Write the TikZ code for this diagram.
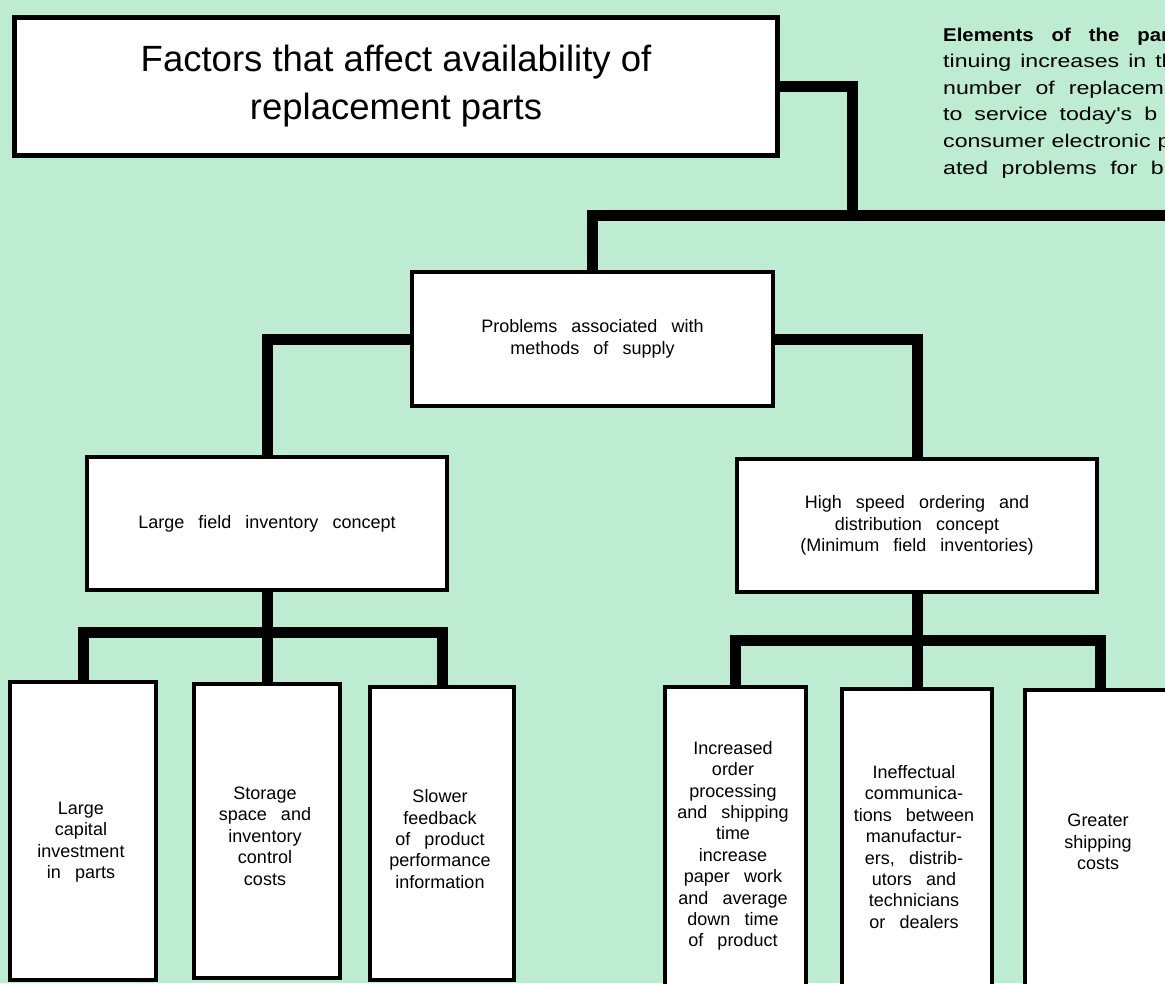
\documentclass[tikz,border=0pt]{standalone}
\usepackage{fontspec}
\setmainfont{Liberation Sans}
\newfontfamily\blockfont{Liberation Sans}[FakeStretch=1.25]
\newfontfamily\blockboldfont{Liberation Sans}[FakeStretch=1.1]
\newcommand\wsp[1]{\spaceskip #1\relax}
\definecolor{mint}{RGB}{189,236,211}
\begin{document}
\begin{tikzpicture}[x=1pt,y=-1pt,
  box/.style={draw=black, fill=white, line width=4pt, inner sep=0pt, anchor=north west},
  wire/.style={draw=black, line width=11pt, line join=miter, line cap=butt},
  boxtext/.style={font={\fontsize{18}{21.4}\selectfont\wsp{0.78em}}, align=center, inner sep=0pt},
  titletext/.style={font={\fontsize{36.5}{48}\selectfont}, align=center},
  coltext/.style={anchor=base west, inner sep=0pt}
]
\useasboundingbox (0,0) rectangle (1165,983);
\clip (0,0) rectangle (1165,983);
\fill[mint] (0,0) rectangle (1165,983);

% right column text (cut by the page edge, as in the reference)
\node[coltext, font={\blockboldfont\bfseries\fontsize{18.5}{20}\selectfont\wsp{18pt}}] (tr1) at (943,41) {Elements of the par};
\node[coltext, font={\blockfont\fontsize{18.5}{20}\selectfont\wsp{9pt}}] (tr2) at (943,67.6) {tinuing increases in th};
\node[coltext, font={\blockfont\fontsize{18.5}{20}\selectfont\wsp{14pt}}] (tr3) at (943,94.2) {number of replacem};
\node[coltext, font={\blockfont\fontsize{18.5}{20}\selectfont\wsp{12pt}}] (tr4) at (943,120.8) {to service today's b};
\node[coltext, font={\blockfont\fontsize{18.5}{20}\selectfont\wsp{7pt}}] (tr5) at (943,147.4) {consumer electronic p};
\node[coltext, font={\blockfont\fontsize{18.5}{20}\selectfont\wsp{13.5pt}}] (tr6) at (943,174) {ated problems for b};

% boxes
\node[box, line width=5pt, minimum width=763pt, minimum height=138pt, titletext] (title) at (12,15)
  {Factors that affect availability of\\replacement parts};
\node[box, minimum width=361pt, minimum height=134pt, boxtext] (prob) at (410,270)
  {Problems associated with\\methods of supply};
\node[box, minimum width=360pt, minimum height=133pt, boxtext] (large) at (85,455)
  {Large field inventory concept};
\node[box, minimum width=360pt, minimum height=133pt, boxtext] (hs) at (735,457)
  {High speed ordering and\\distribution concept\\(Minimum field inventories)};

\node[box, minimum width=146pt, minimum height=298pt] (b1) at (8,680) {};
\node[box, minimum width=146pt, minimum height=294pt] (b2) at (192,682) {};
\node[box, minimum width=144pt, minimum height=293pt] (b3) at (368,685) {};
\node[box, minimum width=141pt, minimum height=320pt] (b4) at (663,685) {};
\node[box, minimum width=150pt, minimum height=320pt] (b5) at (840,687) {};
\node[box, minimum width=150pt, minimum height=320pt] (b6) at (1023,688) {};

\node[boxtext] (t1) at (81,842) {Large\\capital\\investment\\in parts};
\node[boxtext] (t2) at (265,836) {Storage\\space and\\inventory\\control\\costs};
\node[boxtext] (t3) at (440,839) {Slower\\feedback\\of product\\performance\\information};
\node[boxtext] (t4) at (733,846) {Increased\\order\\processing\\and shipping\\time\\increase\\paper work\\and average\\down time\\of product};
\node[boxtext] (t5) at (914,847) {Ineffectual\\communica-\\tions between\\manufactur-\\ers, distrib-\\utors and\\technicians\\or dealers};
\node[boxtext] (t6) at (1098,842) {Greater\\shipping\\costs};

% connectors
\coordinate (j1) at (852,215);
\coordinate (barR) at (1175,215);
\coordinate (lbar) at (265,632);
\coordinate (rbar) at (915,640);

\draw[wire] (title.east) -| (j1);
\draw[wire] (prob.north) |- (barR);
\draw[wire] (prob.west) -| (large.north);
\draw[wire] (prob.east) -| (hs.north);
\draw[wire] (large.south) -- (b2.north);
\draw[wire] (b1.north) |- (lbar) -| (b3.north);
\draw[wire] (hs.south) -- (b5.north);
\draw[wire] (b4.north) |- (rbar) -| (b6.north);
\end{tikzpicture}
\end{document}
